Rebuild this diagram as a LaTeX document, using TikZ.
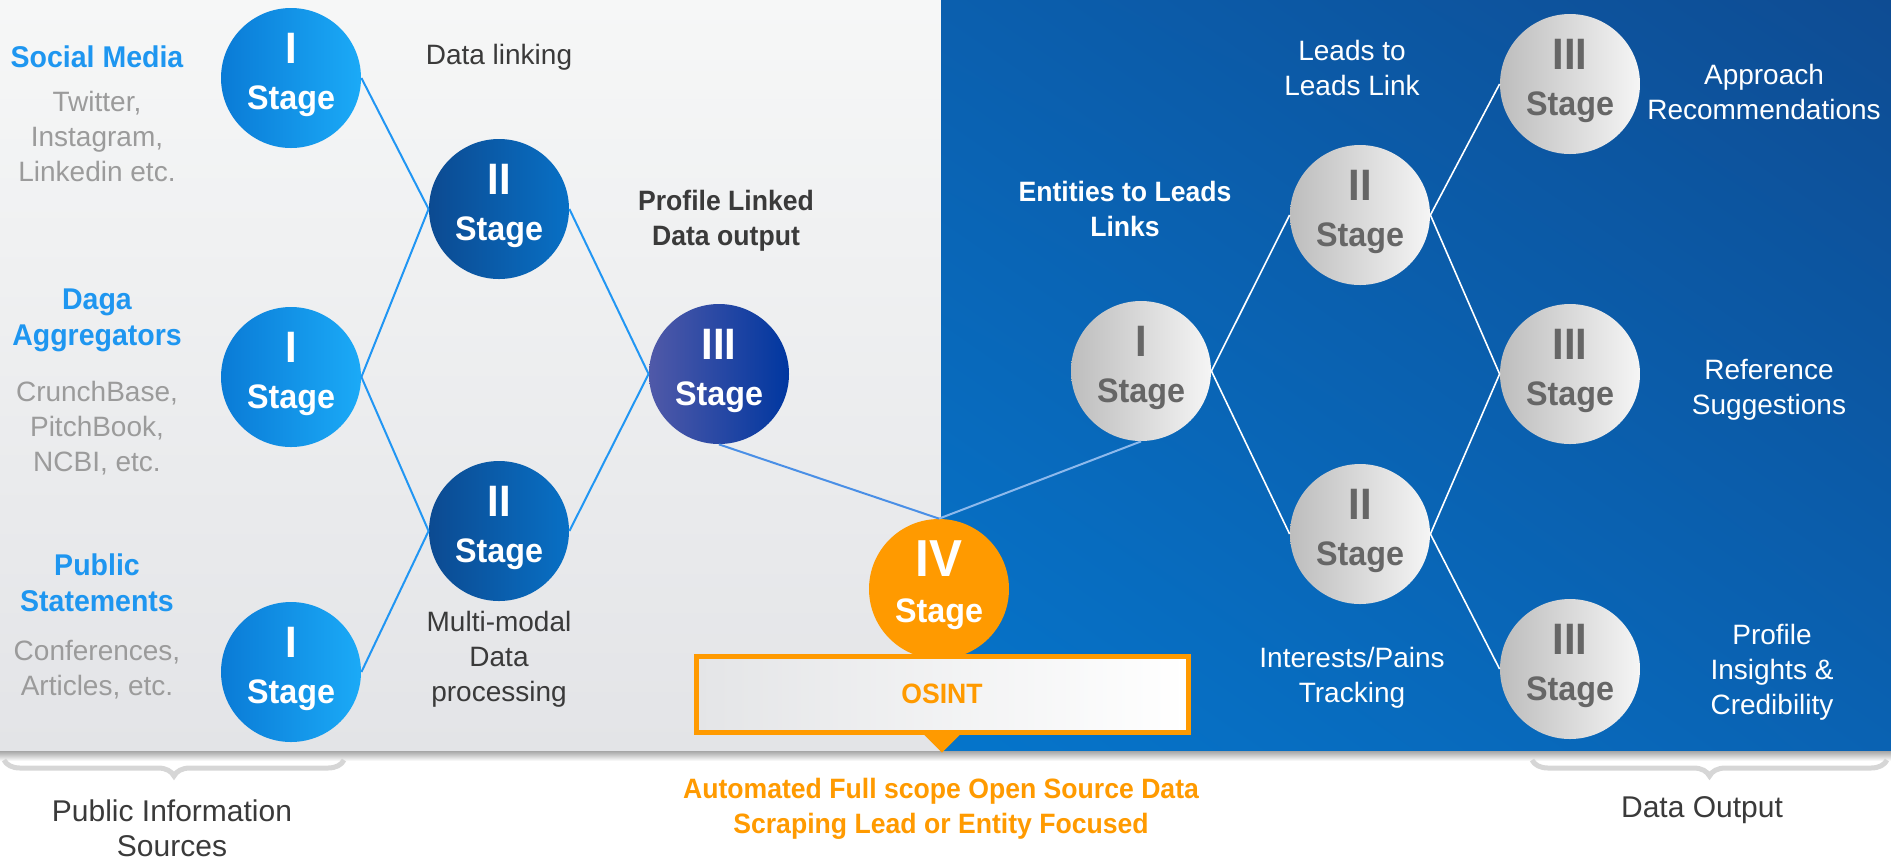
\documentclass[tikz,border=0pt]{standalone}
\usepackage{fontspec}
\setmainfont{Liberation Sans}[BoldFeatures={FakeStretch=0.95}]
\usetikzlibrary{decorations.pathreplacing,shadings}

\definecolor{panelA}{HTML}{F6F7F7}
\definecolor{panelB}{HTML}{E3E4E7}
\definecolor{blueUL}{HTML}{0B5FAE}
\definecolor{blueUR}{HTML}{0E4C93}
\definecolor{blueLL}{HTML}{0575CB}
\definecolor{blueLR}{HTML}{0A62B2}
\definecolor{srcA}{HTML}{0A7BD6}
\definecolor{srcB}{HTML}{1BAAF7}
\definecolor{lnkA}{HTML}{0C4A91}
\definecolor{lnkB}{HTML}{0870C5}
\definecolor{outA}{HTML}{5059A8}
\definecolor{outB}{HTML}{0037A0}
\definecolor{osorange}{HTML}{FF9A00}
\definecolor{leadA}{HTML}{BDBDBD}
\definecolor{leadB}{HTML}{F5F5F5}
\definecolor{leadtxt}{HTML}{666666}
\definecolor{lineblue}{HTML}{2196F3}
\definecolor{midblue}{HTML}{4A8FE6}
\definecolor{paleblue}{HTML}{8DB9EC}
\definecolor{headblue}{HTML}{1E96F0}
\definecolor{bodygrey}{HTML}{9B9B9B}
\definecolor{darktext}{HTML}{3A3A3A}
\definecolor{braceGrey}{HTML}{D6D6D6}
\definecolor{boxA}{HTML}{E4E5E7}

\newcommand{\stg}[2][22]{{\fontsize{#1}{#1}\selectfont #2}\\[6pt]Stage\rule[-7pt]{0pt}{7pt}}

\tikzset{
    stage/.style={circle, minimum size=70pt, inner sep=0pt, align=center,
        font=\bfseries\fontsize{17}{17}\selectfont},
    srcstage/.style={stage, text=white, left color=srcA, right color=srcB},
    lnkstage/.style={stage, text=white, left color=lnkA, right color=lnkB},
    outstage/.style={stage, text=white, left color=outA, right color=outB},
    osstage/.style={stage, text=white, fill=osorange},
    leadstage/.style={stage, text=leadtxt, left color=leadA, right color=leadB},
    srchead/.style={align=center, text=headblue, font=\bfseries\fontsize{15}{18}\selectfont},
    srcbody/.style={align=center, text=bodygrey, font=\fontsize{14}{17.5}\selectfont},
    note/.style={align=center, text=darktext, font=\fontsize{14}{17.5}\selectfont},
    boldnote/.style={note, font=\bfseries\fontsize{14}{17.5}\selectfont},
    wnote/.style={note, text=white},
    wboldnote/.style={boldnote, text=white},
    bottomnote/.style={align=center, text=darktext, font=\fontsize{15}{17.5}\selectfont},
    grpbrace/.style={decorate, decoration={brace, mirror, amplitude=8pt},
        line width=2.5pt, draw=braceGrey},
}

\begin{document}
\begin{tikzpicture}[x=0.5pt, y=-0.5pt]
    \useasboundingbox (0,0) rectangle (1891,859);
    % panels
    \shade[top color=panelA, bottom color=panelB] (0,0) rectangle (941,751);
    \shade[upper left=blueUL, upper right=blueUR, lower left=blueLL, lower right=blueLR]
        (941,0) rectangle (1891,751);
    \shade[top color=black!35, bottom color=white] (0,751) rectangle (1891,761);

    % sources
    \node[srcstage] (src1) at (291,78) {\stg{I}};
    \node[srcstage] (src2) at (291,377) {\stg{I}};
    \node[srcstage] (src3) at (291,672) {\stg{I}};
    \node[lnkstage] (lnk1) at (499,209) {\stg{II}};
    \node[lnkstage] (lnk2) at (499,531) {\stg{II}};
    \node[outstage] (prof) at (719,374) {\stg{III}};
    \node[osstage] (osint) at (939,589) {\stg[26]{IV}};
    % leads
    \node[leadstage] (ent) at (1141,371) {\stg{I}};
    \node[leadstage] (lead1) at (1360,215) {\stg{II}};
    \node[leadstage] (lead2) at (1360,534) {\stg{II}};
    \node[leadstage] (res1) at (1570,84) {\stg{III}};
    \node[leadstage] (res2) at (1570,374) {\stg{III}};
    \node[leadstage] (res3) at (1570,669) {\stg{III}};

    \draw[lineblue, line width=1pt] (src1.east) -- (lnk1.west);
    \draw[lineblue, line width=1pt] (src2.east) -- (lnk1.west);
    \draw[lineblue, line width=1pt] (src2.east) -- (lnk2.west);
    \draw[lineblue, line width=1pt] (src3.east) -- (lnk2.west);
    \draw[lineblue, line width=1pt] (lnk1.east) -- (prof.west);
    \draw[lineblue, line width=1pt] (lnk2.east) -- (prof.west);
    \draw[midblue, line width=1pt] (prof.south) -- (osint.north);
    \draw[paleblue, line width=1pt] (osint.north) -- (ent.south);
    \draw[white, line width=0.8pt] (ent.east) -- (lead1.west);
    \draw[white, line width=0.8pt] (ent.east) -- (lead2.west);
    \draw[white, line width=0.8pt] (lead1.east) -- (res1.west);
    \draw[white, line width=0.8pt] (lead1.east) -- (res2.west);
    \draw[white, line width=0.8pt] (lead2.east) -- (res2.west);
    \draw[white, line width=0.8pt] (lead2.east) -- (res3.west);

    % OSINT box
    \node[draw=osorange, line width=2.5pt, left color=boxA, right color=white,
        minimum width=246pt, minimum height=38pt, text=osorange,
        font=\bfseries\fontsize{14}{14}\selectfont] (osbox) at (942,694) {OSINT};
    \fill[osorange] (osbox.south) ++(-18,0) -- ++(36,0) -- ++(-18,18) -- cycle;

    % texts
    \node[srchead] (hsoc) at (97,57) {Social Media};
    \node[srcbody] (bsoc) at (97,136) {Twitter,\\Instagram,\\Linkedin etc.};
    \node[srchead] (hagg) at (97,320) {Daga\\Aggregators};
    \node[srcbody] (bagg) at (97,428) {CrunchBase,\\PitchBook,\\NCBI, etc.};
    \node[srchead] (hpub) at (97,583) {Public\\Statements};
    \node[srcbody] (bpub) at (97,670) {Conferences,\\Articles, etc.};
    \node[note] (tlink) at (499,57) {Data linking};
    \node[boldnote] (tprof) at (726,221) {Profile Linked\\Data output};
    \node[note] (tmulti) at (499,659) {Multi-modal\\Data\\processing};
    \node[wboldnote] (tent) at (1125,209) {Entities to Leads\\Links};
    \node[wnote] (tlead) at (1352,68) {Leads to\\Leads Link};
    \node[wnote] (tappr) at (1764,92) {Approach\\Recommendations};
    \node[wnote] (tref) at (1769,390) {Reference\\Suggestions};
    \node[wnote] (tint) at (1352,678) {Interests/Pains\\Tracking};
    \node[wnote] (tins) at (1772,672) {Profile\\Insights \&\\Credibility};

    % bottom
    \draw[grpbrace] (4,760) -- (344,760);
    \draw[grpbrace] (1532,760) -- (1887,760);
    \node[bottomnote] (tsrc) at (172,828) {Public Information\\Sources};
    \node[bottomnote] (tout) at (1702,810) {Data Output};
    \node[boldnote, text=osorange] (tauto) at (941,809)
        {Automated Full scope Open Source Data\\Scraping Lead or Entity Focused};
\end{tikzpicture}
\end{document}
